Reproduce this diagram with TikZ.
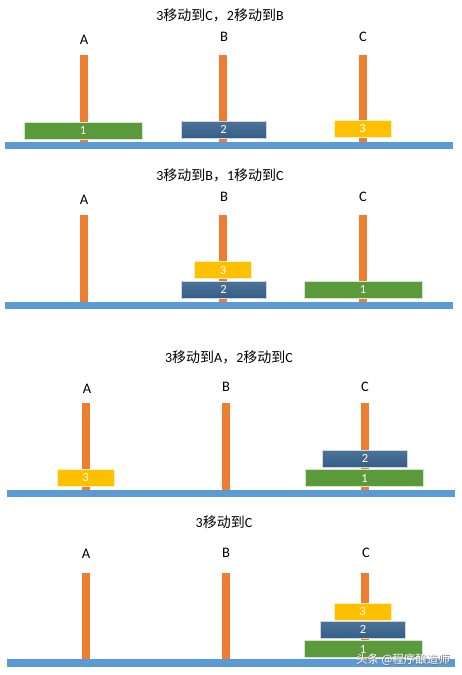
\documentclass[tikz,border=0pt]{standalone}
\usepackage{fontspec}
\setmainfont{Carlito}
\newfontfamily\cjk{Noto Sans CJK SC}
\definecolor{pegorange}{HTML}{ED7D31}
\definecolor{groundblue}{HTML}{5B9BD5}
\definecolor{diskgreen}{HTML}{5B9A3A}
\definecolor{diskblue}{HTML}{355F88}
\definecolor{diskyellow}{HTML}{FFC000}
\tikzset{
  peg/.style={fill=pegorange},
  ground/.style={fill=groundblue},
  disk/.style={draw=white!75!#1, line width=0.6pt, fill=#1, text=white,
    minimum height=17, inner sep=0pt, font=\fontsize{12.5}{12.5}\selectfont},
  diskone/.style={disk=diskgreen, minimum width=118},
  disktwo/.style={disk=diskblue, minimum width=85, top color=diskblue!88!white, bottom color=diskblue},
  diskthree/.style={disk=diskyellow, minimum width=57},
  title/.style={font=\fontsize{14}{14}\selectfont},
  pegname/.style={font=\fontsize{14.5}{14.5}\selectfont},
}
\begin{document}
\begin{tikzpicture}[x=1pt, y=-1pt]
    \useasboundingbox (0,0) rectangle (461,675);

    % Schritt 1
    \node[title] (t1) at (220,15) {3{\cjk 移动到}C{\cjk ，}2{\cjk 移动到}B};
    \node[pegname] (a1) at (84,40) {A};
    \node[pegname] (b1) at (224,37) {B};
    \node[pegname] (c1) at (363,37) {C};
    \fill[peg] (80,55) rectangle (88,143);
    \fill[peg] (219,55) rectangle (227,143);
    \fill[peg] (359,55) rectangle (367,143);
    \fill[ground] (5,142) rectangle (453,149);
    \node[diskone] (p1d1) at (83,130.5) {1};
    \node[disktwo] (p1d2) at (223.5,129.5) {2};
    \node[diskthree] (p1d3) at (362.5,128.5) {3};

    % Schritt 2
    \node[title] (t2) at (220,175) {3{\cjk 移动到}B{\cjk ，}1{\cjk 移动到}C};
    \node[pegname] (a2) at (84,200) {A};
    \node[pegname] (b2) at (224,197) {B};
    \node[pegname] (c2) at (363,197) {C};
    \fill[peg] (80,215) rectangle (88,303);
    \fill[peg] (219,215) rectangle (227,303);
    \fill[peg] (359,215) rectangle (367,303);
    \fill[ground] (5,302) rectangle (453,309);
    \node[disktwo] (p2d2) at (223.5,289.5) {2};
    \node[diskthree] (p2d3) at (223,270) {3};
    \node[diskone] (p2d1) at (363,289.5) {1};

    % Schritt 3
    \node[title] (t3) at (229,357) {3{\cjk 移动到}A{\cjk ，}2{\cjk 移动到}C};
    \node[pegname] (a3) at (87,389) {A};
    \node[pegname] (b3) at (226,387) {B};
    \node[pegname] (c3) at (365,387) {C};
    \fill[peg] (82,403) rectangle (90,490);
    \fill[peg] (222,403) rectangle (230,490);
    \fill[peg] (361,403) rectangle (369,490);
    \fill[ground] (7,490) rectangle (455,497);
    \node[diskthree] (p3d3) at (85.5,477.5) {3};
    \node[diskone] (p3d1) at (364.5,478) {1};
    \node[disktwo] (p3d2) at (365,458.5) {2};

    % Schritt 4
    \node[title] (t4) at (224,522) {3{\cjk 移动到}C};
    \node[pegname] (a4) at (86,554) {A};
    \node[pegname] (b4) at (226,553) {B};
    \node[pegname] (c4) at (366,553) {C};
    \fill[peg] (82,573) rectangle (90,659);
    \fill[peg] (222,573) rectangle (230,659);
    \fill[peg] (361,573) rectangle (369,659);
    \fill[ground] (7,659) rectangle (455,667);
    \node[diskone] (p4d1) at (363,649) {1};
    \node[disktwo] (p4d2) at (363,629.5) {2};
    \node[diskthree] (p4d3) at (362.5,611.5) {3};

    % Wasserzeichen
    \node[text=black!55, font=\cjk\fontsize{11.5}{11.5}\selectfont] at (403.7,660.7) {头条 @程序酿造师};
    \node[text=white, font=\cjk\fontsize{11.5}{11.5}\selectfont] (mark) at (403,660) {头条 @程序酿造师};
\end{tikzpicture}
\end{document}
